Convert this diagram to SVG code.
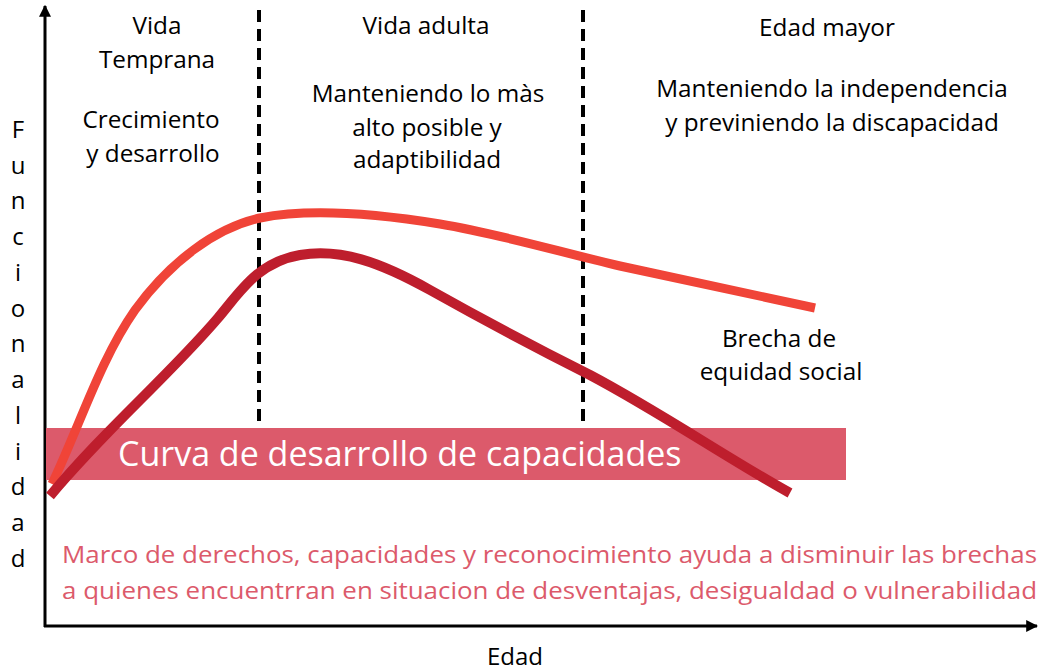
<svg xmlns="http://www.w3.org/2000/svg" width="1039" height="671" viewBox="0 0 1039 671">
<defs>
<style>
text{font-family:"Open Sans","Noto Sans","Liberation Sans",sans-serif;fill:#000}
.h{font-size:24.3px;text-anchor:middle}
.ax{font-size:24px;text-anchor:middle}
.dash{stroke:#000;stroke-width:4;stroke-dasharray:12 7;fill:none}
.pink{fill:#DC5A6B;font-size:24px}
</style>
<marker id="ah" viewBox="0 0 10 10" refX="9" refY="5" markerWidth="4" markerHeight="4" orient="auto" markerUnits="strokeWidth"><path d="M0,0 L10,5 L0,10 z" fill="#000"/></marker>
</defs>
<rect width="1039" height="671" fill="#fff"/>
<g id="axes">
<line x1="45" y1="627" x2="45" y2="6" stroke="#000" stroke-width="3" marker-end="url(#ah)"/>
<line x1="44" y1="626" x2="1037" y2="626" stroke="#000" stroke-width="3" marker-end="url(#ah)"/>
</g>
<g id="dividers">
<line class="dash" x1="259" y1="10" x2="259" y2="422"/>
<line class="dash" x1="583" y1="10" x2="583" y2="422"/>
</g>
<g id="band">
<rect x="46" y="428" width="800" height="52" fill="#DC5A6B"/>
<text x="118" y="466" font-size="34" style="fill:#fff">Curva de desarrollo de capacidades</text>
</g>
<g id="curves" fill="none" stroke-linecap="butt">
<path d="M52,484 C80,425 100,360 135,310 C170,262 215,228 260,218 C300,210 360,211 440,224 C500,234 560,252 620,266 C700,283 760,296 815,308" stroke="#F04438" stroke-width="9"/>
<path d="M50,496 C80,460 110,430 140,400 C170,370 195,345 218,318 C240,292 258,262 300,255 C340,248 380,262 430,290 C480,318 530,345 590,375 C660,412 730,460 790,493" stroke="#BE1E2D" stroke-width="10"/>
</g>
<g id="y-label">
<text class="ax" x="18" y="138">F</text>
<text class="ax" x="18" y="174">u</text>
<text class="ax" x="18" y="209">n</text>
<text class="ax" x="18" y="245">c</text>
<text class="ax" x="18" y="281">i</text>
<text class="ax" x="18" y="317">o</text>
<text class="ax" x="18" y="352">n</text>
<text class="ax" x="18" y="388">a</text>
<text class="ax" x="18" y="424">l</text>
<text class="ax" x="18" y="460">i</text>
<text class="ax" x="18" y="495">d</text>
<text class="ax" x="18" y="531">a</text>
<text class="ax" x="18" y="567">d</text>
</g>
<g id="x-label"><text class="ax" x="515" y="665">Edad</text></g>
<g id="vida-temprana">
<text class="h" x="157" y="34">Vida</text>
<text class="h" x="157" y="68">Temprana</text>
<text class="h" x="151" y="128">Crecimiento</text>
<text class="h" x="153" y="162">y desarrollo</text>
</g>
<g id="vida-adulta">
<text class="h" x="426" y="34">Vida adulta</text>
<text class="h" x="428" y="102">Manteniendo lo màs</text>
<text class="h" x="427" y="136">alto posible y</text>
<text class="h" x="427" y="168">adaptibilidad</text>
</g>
<g id="edad-mayor">
<text class="h" x="827" y="36">Edad mayor</text>
<text class="h" x="832" y="97">Manteniendo la independencia</text>
<text class="h" x="832" y="131">y previniendo la discapacidad</text>
</g>
<g id="brecha">
<text class="h" x="779" y="347">Brecha de</text>
<text class="h" x="781" y="380">equidad social</text>
</g>
<g id="marco">
<text class="pink" x="62" y="563" textLength="975" lengthAdjust="spacingAndGlyphs">Marco de derechos, capacidades y reconocimiento ayuda a disminuir las brechas</text>
<text class="pink" x="62" y="599" textLength="975" lengthAdjust="spacingAndGlyphs">a quienes encuentrran en situacion de desventajas, desigualdad o vulnerabilidad</text>
</g>
</svg>
